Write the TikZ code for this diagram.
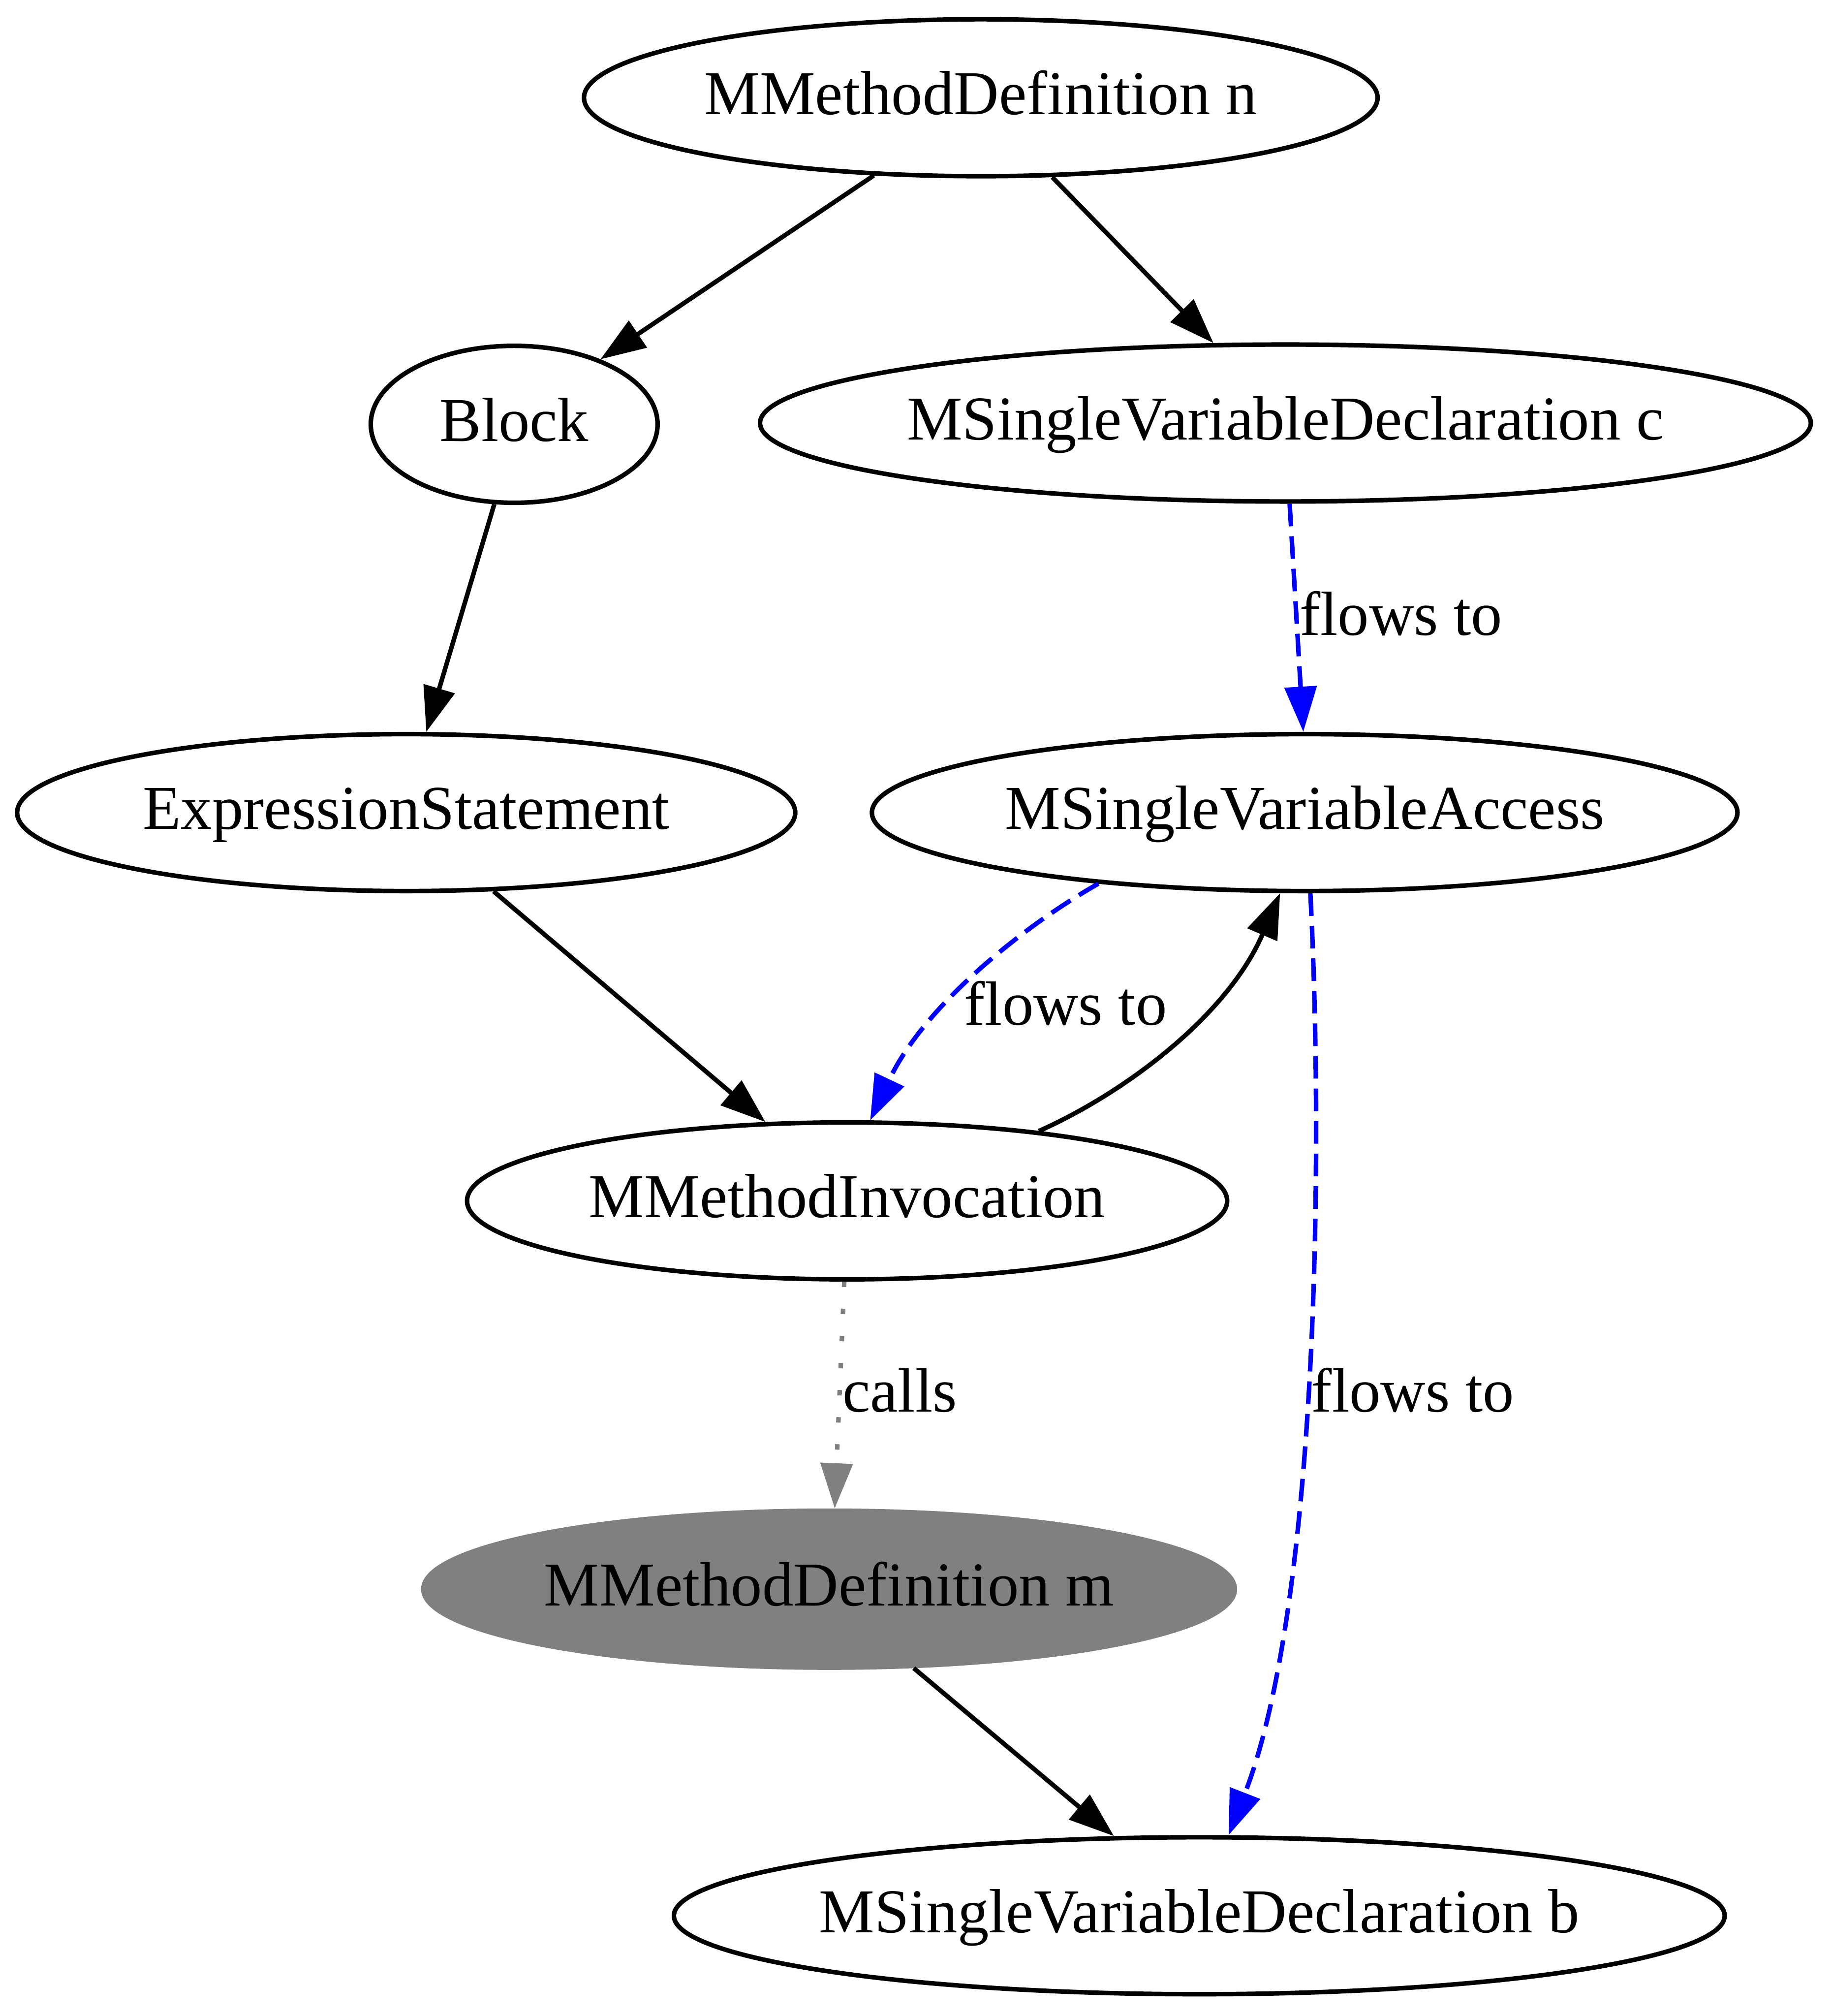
\documentclass[tikz,border=0pt]{standalone}
\usepackage{fontspec}
\setmainfont{Liberation Serif}
\usepackage{tikz}
\usetikzlibrary{arrows.meta,shapes.geometric}
\definecolor{flowblue}{RGB}{0,0,255}
\definecolor{callgray}{RGB}{128,128,128}

\begin{document}
\begin{tikzpicture}[x=0.01cm,y=-0.01cm,>={Triangle[length=10pt,width=7pt]},line width=1pt,
  every node/.style={font=\fontsize{13.8}{16}\selectfont,text height=10pt,text depth=2.6pt},
  astnode/.style={draw,ellipse,inner xsep=-1mm,inner ysep=0pt,minimum height=1.22cm},
  flow/.style={->,draw=flowblue,dash pattern=on 5pt off 2.2pt},
  lbl/.style={inner sep=0pt}]
  \useasboundingbox (0,0) rectangle (1425,1568);
  % nodes
  \node[astnode,minimum width=6.17cm] (defn) at (763,76) {MMethodDefinition n};
  \node[astnode,minimum width=2.23cm] (blk) at (400,330) {Block};
  \node[astnode,minimum width=8.17cm] (decc) at (1000,329) {MSingleVariableDeclaration c};
  \node[astnode,minimum width=6.05cm] (es) at (316,632) {ExpressionStatement};
  \node[astnode,minimum width=6.73cm] (acc) at (1015,632) {MSingleVariableAccess};
  \node[astnode,minimum width=5.91cm] (inv) at (659,934) {MMethodInvocation};
  \node[astnode,draw=callgray,fill=callgray,minimum width=6.31cm] (defm) at (645,1236) {MMethodDefinition m};
  \node[astnode,minimum width=8.17cm] (decb) at (933,1490) {MSingleVariableDeclaration b};
  % tree edges
  \draw[->] (defn.216) -- (blk.37);
  \draw[->] (defn.312) -- (decc.132);
  \draw[->] (blk.256) -- (es.76);
  \draw[->] (es.318) -- (inv.136);
  \draw[->] (inv.20) .. controls (875,850) and (955,790) .. (acc.253);
  \draw[->] (defm.317) -- (decb.137);
  % data flow
  \draw[flow] (decc.273) -- (acc.91);
  \draw[flow] (acc.199) .. controls (800,718) and (720,780) .. (inv.74);
  \draw[flow] (acc.274) .. controls (1030,900) and (1025,1250) .. (decb.70);
  \draw[->,draw=callgray,dash pattern=on 1.2pt off 4.8pt] (inv.268) -- (defm.86);
  % labels
  \node[lbl] (flowca) at (1090,481) {flows to};
  \node[lbl] (flowai) at (829,784) {flows to};
  \node[lbl] (callsim) at (700,1085) {calls};
  \node[lbl] (flowab) at (1099,1085) {flows to};
\end{tikzpicture}
\end{document}
